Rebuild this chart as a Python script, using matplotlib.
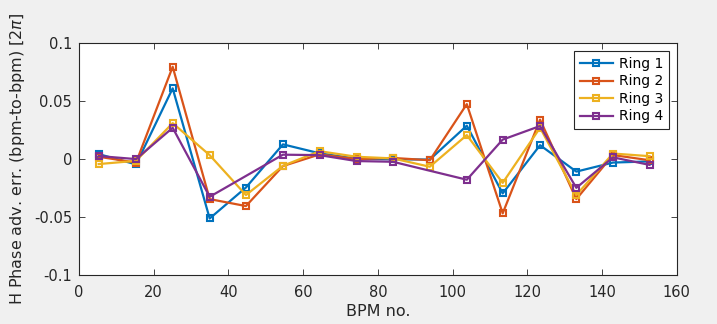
import numpy as np
import matplotlib
matplotlib.use('Agg')
from matplotlib import pyplot as plt

bpm = [5.3, 15.3, 25.1, 35.0, 44.7, 54.6, 64.4, 74.3, 84.0, 93.9,
       103.8, 113.4, 123.4, 133.1, 142.9, 152.7]

ring1 = [0.0043, -0.0046, 0.061, -0.0512, -0.0245, 0.0127, 0.005, 0.0003,
         -0.0002, -0.0004, 0.0288, -0.0296, 0.012, -0.0108, -0.003, -0.002]
ring2 = [0.002, -0.003, 0.0796, -0.0345, -0.0405, -0.006, 0.004, 0.0,
         0.001, -0.001, 0.0474, -0.0468, 0.034, -0.0345, 0.0035, -0.001]
ring3 = [-0.0043, -0.0015, 0.031, 0.0034, -0.031, -0.0058, 0.0068, 0.002,
         0.0006, -0.0066, 0.0207, -0.0205, 0.027, -0.031, 0.0048, 0.0025]
ring4 = [0.0026, 0.0, 0.027, -0.0325, np.nan, 0.0038, 0.0034, -0.0017,
         -0.0023, np.nan, -0.0178, 0.0168, 0.0285, -0.0248, 0.0015, -0.005]

labels = ['Ring 1', 'Ring 2', 'Ring 3', 'Ring 4']
colors = ['#0072BD', '#D95319', '#EDB120', '#7E2F8E']

plt.rcParams['font.family'] = 'DejaVu Sans'
fig = plt.figure(figsize=(7.17, 3.24), dpi=100, facecolor='#f0f0f0')
ax = fig.add_axes([0.110, 0.151, 0.834, 0.716])

x = np.array(bpm)
for y, lab, c in zip([ring1, ring2, ring3, ring4], labels, colors):
    y = np.array(y)
    ok = ~np.isnan(y)
    ax.plot(x[ok], y[ok], '-s', color=c, lw=1.6, ms=4.3, mfc='none',
            mew=1.5, label=lab)

ax.set_xlim(0, 160)
ax.set_ylim(-0.1, 0.1)
ax.set_xticks(np.arange(0, 161, 20))
ax.set_yticks([-0.1, -0.05, 0, 0.05, 0.1])
ax.set_yticklabels(['-0.1', '-0.05', '0', '0.05', '0.1'])
ax.tick_params(direction='in', top=True, right=True, labelsize=10.5,
               colors='#262626', length=4, width=0.6)
ax.tick_params(axis='x', pad=7)
ax.tick_params(axis='y', pad=5)
for s in ax.spines.values():
    s.set_color('#262626')
    s.set_linewidth(0.8)

ax.set_xlabel('BPM no.', fontsize=11.5, color='#262626', labelpad=3)
ax.set_ylabel(r'H Phase adv. err. (bpm-to-bpm) [2$\pi$]', fontsize=11.5,
              color='#262626', labelpad=5)

leg = ax.legend(loc='upper right', fontsize=10, fancybox=False,
                edgecolor='#262626', framealpha=1, handlelength=2.4,
                borderpad=0.4, labelspacing=0.25, handletextpad=0.4,
                borderaxespad=0.6)
leg.get_frame().set_linewidth(0.8)

fig.savefig('out.png', dpi=100, facecolor=fig.get_facecolor())
